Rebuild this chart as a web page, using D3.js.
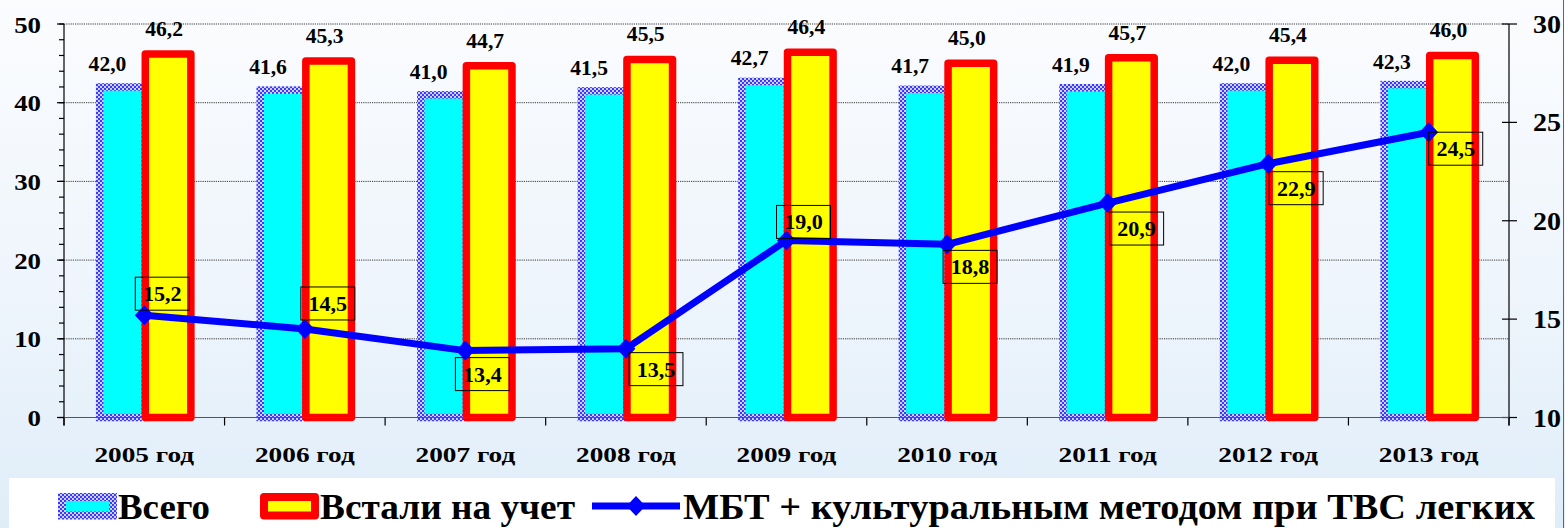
<!DOCTYPE html>
<html>
<head>
<meta charset="utf-8">
<script src="https://cdn.jsdelivr.net/npm/d3@7"></script>
<style>
  html, body { margin: 0; padding: 0; overflow: hidden; background: #ffffff; }
  svg { display: block; }
</style>
</head>
<body>
<svg id="chart" width="1565" height="528" font-family="'Liberation Serif', 'Times New Roman', Times, serif" font-weight="bold"></svg>
<script>
// ---- data ----
const categories = ["2005 год", "2006 год", "2007 год", "2008 год", "2009 год",
                    "2010 год", "2011 год", "2012 год", "2013 год"];
const totalValues      = [42.0, 41.6, 41.0, 41.5, 42.7, 41.7, 41.9, 42.0, 42.3];
const registeredValues = [46.2, 45.3, 44.7, 45.5, 46.4, 45.0, 45.7, 45.4, 46.0];
const mbtValues        = [15.2, 14.5, 13.4, 13.5, 19.0, 18.8, 20.9, 22.9, 24.5];
const leftTicks  = [0, 10, 20, 30, 40, 50];
const rightTicks = [10, 15, 20, 25, 30];
const legendLabels = ["Всего", "Встали на учет", "МБТ + культуральным методом при ТВС легких"];

// ---- layout ----
// offset of each line-value box from its point: [dx, dy]
const mbtLabelOffsets = [[-9, -38], [-4, -42], [-10, 7], [3, 4], [-10, -35],
                         [-4, 6], [2, 9], [1, 8], [0, 0]];
const W = 1565, H = 528;
const plot = { left: 64, right: 1509, top: 24, bottom: 417.5 };
const FONT = "'Liberation Serif', 'Times New Roman', Times, serif";

const svg = d3.select("#chart");
const defs = svg.append("defs");

// page background
const bg = defs.append("linearGradient").attr("id", "bgGrad")
  .attr("x1", 0).attr("y1", 0).attr("x2", 0).attr("y2", 1);
bg.append("stop").attr("offset", "0%").attr("stop-color", "#fbfcfe");
bg.append("stop").attr("offset", "55%").attr("stop-color", "#eef5fc");
bg.append("stop").attr("offset", "100%").attr("stop-color", "#dfedf9");

// checkered blue border for the "Всего" bars
const pat = defs.append("pattern").attr("id", "checker")
  .attr("patternUnits", "userSpaceOnUse").attr("width", 4).attr("height", 4);
pat.append("rect").attr("width", 4).attr("height", 4).attr("fill", "#d0d0ff");
pat.append("rect").attr("width", 2).attr("height", 2).attr("fill", "#3a3aff");
pat.append("rect").attr("x", 2).attr("y", 2).attr("width", 2).attr("height", 2).attr("fill", "#3a3aff");

svg.append("rect").attr("width", W).attr("height", H).attr("fill", "url(#bgGrad)");

// ---- scales ----
const x = d3.scaleBand().domain(categories).range([plot.left, plot.right]).padding(0);
const yLeft = d3.scaleLinear().domain([0, 50]).range([plot.bottom, plot.top]);
const yRight = d3.scaleLinear().domain([10, 30]).range([plot.bottom, plot.top]);
const fmt = v => v.toFixed(1).replace(".", ",");
const cx = c => x(c) + x.bandwidth() / 2;
const barW = x.bandwidth() * 0.284;

// helper: horizontally stretched text
function stretchText(g, tx, ty, sx, str, size, anchor) {
  return g.append("text")
    .attr("transform", `translate(${tx},${ty}) scale(${sx},1)`)
    .attr("text-anchor", anchor || "middle")
    .attr("font-family", FONT).attr("font-weight", "bold")
    .attr("font-size", size).attr("fill", "#000")
    .text(str);
}

// ---- gridlines ----
svg.append("g").selectAll("line").data(leftTicks.filter(d => d > 0)).join("line")
  .attr("x1", plot.left).attr("x2", plot.right)
  .attr("y1", d => yLeft(d)).attr("y2", d => yLeft(d))
  .attr("stroke", "#3a3a3a").attr("stroke-width", 1).attr("stroke-dasharray", "1.2,1");

// ---- bars ----
const bars = svg.append("g");
bars.selectAll("rect.total").data(categories).join("rect")
  .attr("class", "total")
  .attr("x", c => cx(c) - barW + 1)
  .attr("width", barW)
  .attr("y", (c, i) => yLeft(totalValues[i]))
  .attr("height", (c, i) => yLeft(0) - yLeft(totalValues[i]))
  .attr("fill", "#00ffff")
  .attr("stroke", "url(#checker)").attr("stroke-width", 7.5);

bars.selectAll("rect.reg").data(categories).join("rect")
  .attr("class", "reg")
  .attr("x", c => cx(c) + 1)
  .attr("width", barW)
  .attr("y", (c, i) => yLeft(registeredValues[i]))
  .attr("height", (c, i) => yLeft(0) - yLeft(registeredValues[i]))
  .attr("fill", "#ffff00")
  .attr("stroke", "#ff0000").attr("stroke-width", 7.5)
  .attr("stroke-linejoin", "round");

// ---- axes ----
const axes = svg.append("g").attr("stroke", "#000").attr("stroke-width", 1.2);
// left
axes.append("line").attr("x1", plot.left).attr("x2", plot.left)
  .attr("y1", plot.top).attr("y2", plot.bottom + 8);
axes.selectAll("line.minorL").data(d3.range(0, 51, 2)).join("line")
  .attr("x1", plot.left - 5).attr("x2", plot.left)
  .attr("y1", d => yLeft(d)).attr("y2", d => yLeft(d));
axes.selectAll("line.majorL").data(leftTicks).join("line")
  .attr("x1", plot.left - 7).attr("x2", plot.left)
  .attr("y1", d => yLeft(d)).attr("y2", d => yLeft(d));
// right
axes.append("line").attr("x1", plot.right).attr("x2", plot.right)
  .attr("y1", plot.top).attr("y2", plot.bottom + 8);
axes.selectAll("line.majorR").data(rightTicks).join("line")
  .attr("x1", plot.right - 7).attr("x2", plot.right + 8)
  .attr("y1", d => yRight(d)).attr("y2", d => yRight(d));
// bottom
axes.append("line").attr("x1", plot.left).attr("x2", plot.right)
  .attr("y1", plot.bottom).attr("y2", plot.bottom).attr("stroke", "#555");
axes.selectAll("line.catTick").data(d3.range(categories.length + 1)).join("line")
  .attr("x1", i => plot.left + i * x.bandwidth()).attr("x2", i => plot.left + i * x.bandwidth())
  .attr("y1", plot.bottom).attr("y2", plot.bottom + 8);

const tickText = svg.append("g");
leftTicks.forEach(t => stretchText(tickText, 41, yLeft(t) + 8.5, 1.12, String(t), 24, "end"));
rightTicks.forEach(t => stretchText(tickText, 1533, yRight(t) + 9, 1.12, String(t), 25, "start"));
categories.forEach(c => stretchText(tickText, cx(c), 462, 1.3, c, 21, "middle"));

// ---- bar value labels ----
const barLabels = svg.append("g");
categories.forEach((c, i) => {
  stretchText(barLabels, cx(c) - barW / 2 + 1 - 15, yLeft(totalValues[i]) - 16, 1.08, fmt(totalValues[i]), 20);
  stretchText(barLabels, cx(c) + barW / 2 + 1 - 4, yLeft(registeredValues[i]) - 18, 1.08, fmt(registeredValues[i]), 20);
});

// ---- line series (right axis) ----
const line = d3.line().x((d, i) => cx(categories[i])).y(d => yRight(d));
svg.append("path").datum(mbtValues)
  .attr("d", line).attr("fill", "none")
  .attr("stroke", "#0000ff").attr("stroke-width", 7).attr("stroke-linejoin", "round");

const diamond = (px, py, r) => `M${px},${py - r}L${px + r * 0.95},${py}L${px},${py + r}L${px - r * 0.95},${py}Z`;
svg.append("g").selectAll("path").data(mbtValues).join("path")
  .attr("d", (d, i) => diamond(cx(categories[i]), yRight(d), 10))
  .attr("fill", "#0000ff");

// boxed labels for the line values
const boxW = 54, boxH = 33;
const mbtLbl = svg.append("g");
mbtValues.forEach((v, i) => {
  const bx = cx(categories[i]) + mbtLabelOffsets[i][0];
  const by = yRight(v) + mbtLabelOffsets[i][1];
  mbtLbl.append("rect").attr("x", bx).attr("y", by).attr("width", boxW).attr("height", boxH)
    .attr("fill", "none").attr("stroke", "#000").attr("stroke-width", 1);
  stretchText(mbtLbl, bx + boxW / 2, by + 24, 1.05, fmt(v), 21);
});

// ---- legend ----
const lg = svg.append("g");
lg.append("rect").attr("x", 9).attr("y", 478).attr("width", 1546).attr("height", 52).attr("fill", "#ffffff");
lg.append("rect").attr("x", 62).attr("y", 497).attr("width", 51).attr("height", 18.5)
  .attr("fill", "#00ffff").attr("stroke", "url(#checker)").attr("stroke-width", 8);
lg.append("rect").attr("x", 264).attr("y", 497).attr("width", 51).attr("height", 18.5)
  .attr("fill", "#ffff00").attr("stroke", "#ff0000").attr("stroke-width", 8).attr("stroke-linejoin", "round");
lg.append("line").attr("x1", 592).attr("x2", 680).attr("y1", 506).attr("y2", 506)
  .attr("stroke", "#0000ff").attr("stroke-width", 7);
lg.append("path").attr("d", diamond(636, 506, 10)).attr("fill", "#0000ff");

const legendX = [118, 320, 683];
const legendW = [92, 255, 852];
legendLabels.forEach((t, i) => {
  lg.append("text").attr("x", legendX[i]).attr("y", 519)
    .attr("font-family", FONT).attr("font-weight", "bold")
    .attr("font-size", 36).attr("fill", "#000")
    .attr("textLength", legendW[i]).attr("lengthAdjust", "spacingAndGlyphs")
    .text(t);
});

// right frame edge
svg.append("line").attr("x1", 1563.5).attr("x2", 1563.5).attr("y1", 0).attr("y2", H)
  .attr("stroke", "#e03030").attr("stroke-width", 1);
</script>
</body>
</html>
